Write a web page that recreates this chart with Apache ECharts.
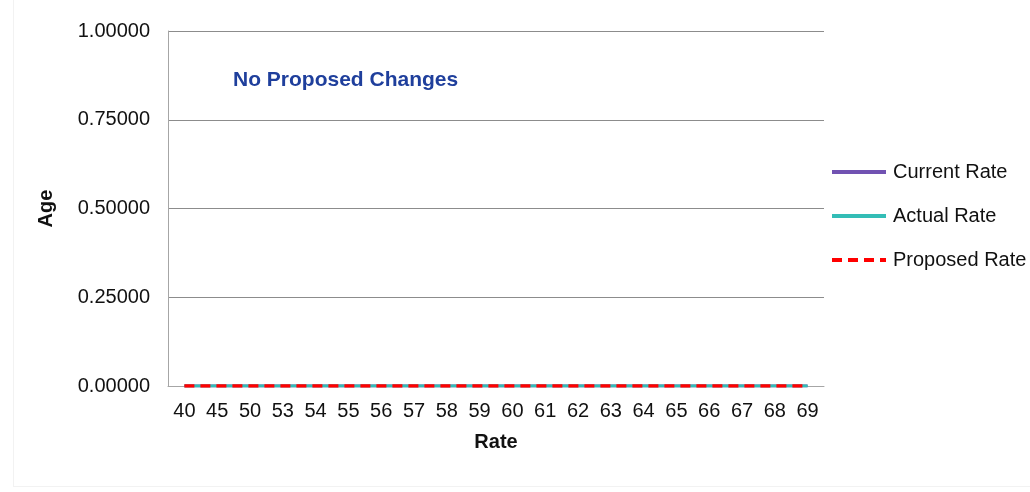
<!DOCTYPE html>
<html>
<head>
<meta charset="utf-8">
<script src="https://cdn.jsdelivr.net/npm/echarts@6/dist/echarts.min.js"></script>
<style>
  html, body { margin: 0; padding: 0; background: #ffffff; }
  #frame { position: absolute; left: 13px; top: 0; width: 1017px; height: 486px; border-left: 1px solid #f2f2f2; border-bottom: 1px solid #f2f2f2; background: #fff; }
  #chart { position: absolute; left: 0; top: 0; width: 1030px; height: 492px; }
</style>
</head>
<body>
<div id="frame"></div>
<div id="chart"></div>
<script>
const rates = ['40', '45', '50', '53', '54', '55', '56', '57', '58', '59',
  '60', '61', '62', '63', '64', '65', '66', '67', '68', '69'];
const currentRate = [0, 0, 0, 0, 0, 0, 0, 0, 0, 0, 0, 0, 0, 0, 0, 0, 0, 0, 0, 0];
const actualRate = [0, 0, 0, 0, 0, 0, 0, 0, 0, 0, 0, 0, 0, 0, 0, 0, 0, 0, 0, 0];
const proposedRate = [0, 0, 0, 0, 0, 0, 0, 0, 0, 0, 0, 0, 0, 0, 0, 0, 0, 0, 0, 0];
const note = 'No Proposed Changes';

const font = 'Liberation Sans, Arial, sans-serif';
const fs = 20;

const myChart = echarts.init(document.getElementById('chart'), null, { renderer: 'canvas' });

const option = {
  backgroundColor: 'transparent',
  animation: false,
  textStyle: { fontFamily: font },
  title: {
    text: note,
    left: 228,
    top: 65,
    textStyle: { color: '#1f3f9c', fontSize: 21, fontWeight: 'bold', fontFamily: font }
  },
  legend: {
    orient: 'vertical',
    left: 825,
    top: 157,
    itemWidth: 54,
    itemHeight: 4,
    itemGap: 24,
    itemStyle: { opacity: 0 },
    lineStyle: { width: 4 },
    textStyle: { fontSize: fs, color: '#111', fontFamily: font, padding: [0, 0, 0, 2] },
    data: ['Current Rate', 'Actual Rate', 'Proposed Rate']
  },
  grid: {
    left: 168,
    right: 206,
    top: 31,
    bottom: 106
  },
  xAxis: {
    type: 'category',
    data: rates,
    boundaryGap: true,
    name: 'Rate',
    nameLocation: 'middle',
    nameGap: 46,
    nameTextStyle: { fontSize: fs, fontWeight: 'bold', color: '#111' },
    axisLine: { lineStyle: { color: '#a6a6a6', width: 1 } },
    axisTick: { show: false },
    axisLabel: { fontSize: fs, color: '#111', margin: 15, interval: 0 }
  },
  yAxis: {
    type: 'value',
    min: 0,
    max: 1,
    interval: 0.25,
    name: 'Age',
    nameLocation: 'middle',
    nameGap: 112,
    nameTextStyle: { fontSize: fs, fontWeight: 'bold', color: '#111' },
    axisLine: { show: true, lineStyle: { color: '#a6a6a6', width: 1 } },
    axisTick: { show: false },
    splitLine: { lineStyle: { color: '#8c8c8c', width: 1 } },
    axisLabel: {
      fontSize: fs,
      color: '#111',
      margin: 18,
      formatter: v => v.toFixed(5)
    }
  },
  series: [
    {
      name: 'Current Rate',
      type: 'line',
      data: currentRate,
      symbol: 'none',
      color: '#7152b2',
      lineStyle: { width: 3, color: '#7152b2' }
    },
    {
      name: 'Actual Rate',
      type: 'line',
      data: actualRate,
      symbol: 'none',
      color: '#33bdb6',
      lineStyle: { width: 3, color: '#33bdb6' }
    },
    {
      name: 'Proposed Rate',
      type: 'line',
      data: proposedRate,
      symbol: 'none',
      color: '#ff0000',
      lineStyle: { width: 3.5, color: '#ff0000', type: [10, 6] }
    }
  ]
};

myChart.setOption(option);
</script>
</body>
</html>
